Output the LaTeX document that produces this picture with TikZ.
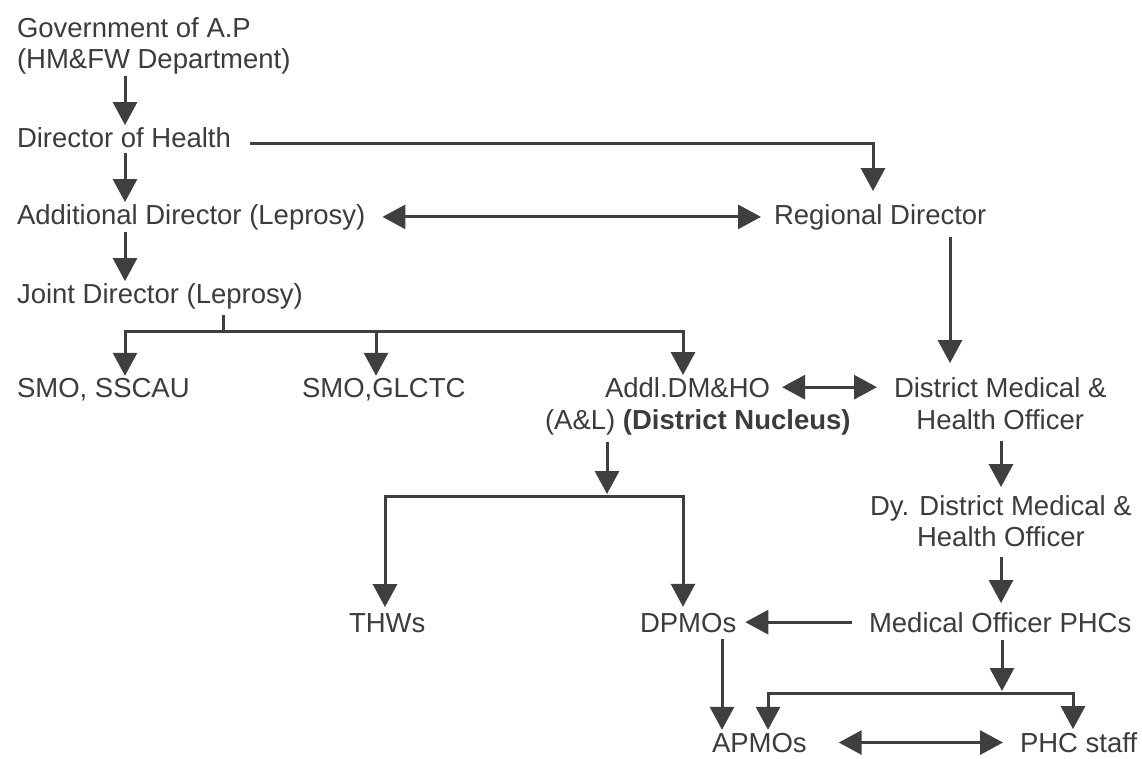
\documentclass[tikz,border=0pt]{standalone}
\usepackage{fontspec}
\setmainfont{Liberation Sans}
\usetikzlibrary{arrows.meta}
\definecolor{ink}{HTML}{3F3F3F}
\definecolor{txt}{HTML}{3C3C3C}
\begin{document}
\begin{tikzpicture}[x=1pt,y=-1pt,
  lbl/.style={font=\fontsize{27.5}{32}\selectfont, text=txt, inner sep=0pt, outer sep=2pt, anchor=base west},
  ln/.style={draw=ink, line width=3pt},
  arr/.style={ln, -{Triangle[width=24pt,length=23pt]}},
  darr/.style={ln, {Triangle[width=24pt,length=23pt]}-{Triangle[width=24pt,length=23pt]}}]
\fill[white] (0,0) rectangle (1142,758);
\useasboundingbox (0,0) rectangle (1142,758);

% columns and junctions
\coordinate (c1) at (125,0);
\coordinate (c2) at (376,0);
\coordinate (c3) at (683,0);
\coordinate (c4) at (385,0);
\coordinate (c5) at (950,0);
\coordinate (c6) at (873,0);
\coordinate (c7) at (1001,0);
\coordinate (c8) at (722,0);
\coordinate (c9) at (768,0);
\coordinate (c10) at (1073,0);
\coordinate (jb) at (223,331);
\coordinate (ab) at (607,496);
\coordinate (mb) at (1002,693);

% nodes
\node[lbl] (gov1) at (15,37) {Government of A.P};
\node[lbl] (gov2) at (15,68) {(HM\&FW Department)};
\node[lbl] (dh) at (15,147) {Director of Health};
\node[lbl] (ad) at (15,224) {Additional Director (Leprosy)};
\node[lbl] (rd) at (772,224) {Regional Director};
\node[lbl] (jd) at (15,303) {Joint Director (Leprosy)};
\node[lbl] (smo1) at (15,397) {SMO, SSCAU};
\node[lbl] (smo2) at (300,397) {SMO,GLCTC};
\node[lbl] (addl) at (603,397) {Addl.DM\&HO};
\node[lbl] (al) at (543,429) {(A\&L) \textbf{(District Nucleus)}};
\node[lbl] (dmho1) at (892,397) {District Medical \&};
\node[lbl,anchor=base] (dmho2) at ([yshift=-32pt]dmho1.base) {Health Officer};
\node[lbl] (dy1) at (868,515) {Dy. District Medical \&};
\node[lbl,anchor=base] (dy2) at ([yshift=-31pt]dy1.base) {Health Officer};
\node[lbl] (thw) at (347,632) {THWs};
\node[lbl] (dp) at (638,632) {DPMOs};
\node[lbl] (mo) at (867,632) {Medical Officer PHCs};
\node[lbl] (ap) at (710,752) {APMOs};
\node[lbl] (phc) at (1018,752) {PHC staff};

% left column
\draw[arr] (gov2.south -| c1) -- (dh.north -| c1);
\draw[arr, shorten <=4pt] (dh.south -| c1) -- (ad.north -| c1);
\draw[arr] (ad.south -| c1) -- (jd.north -| c1);

% director -> regional
\draw[arr] ([xshift=17pt,yshift=4pt]dh.base east) -| ([yshift=11pt]rd.north -| c6);
\draw[darr, shorten <=15pt, shorten >=11pt] (ad.east) -- (ad.east -| rd.west);

% joint director branches
\draw[ln, shorten <=4pt] (jd.south -| jb) -- (jb);
\draw[arr] (jb) -| (smo1.north -| c1);
\draw[arr] (jb -| c2) -- (smo2.north -| c2);
\draw[arr] (jb) -| (addl.north -| c3);

% regional -> DMHO
\draw[arr, shorten <=5pt, shorten >=12pt] (rd.south -| c5) -- (dmho1.north -| c5);
\draw[darr, shorten <=10pt, shorten >=15pt] (addl.east) -- (addl.east -| dmho1.west);

% Addl -> THWs, DPMOs
\draw[arr, shorten <=5pt, shorten >=2pt] (al.south -| ab) -- (ab);
\draw[arr, shorten >=4pt] (ab) -| (thw.north -| c4);
\draw[arr, shorten >=4pt] (ab) -| (dp.north -| c3);

% right column
\draw[arr, shorten <=10pt, shorten >=6pt] (dmho2.south -| c7) -- (dy1.north -| c7);
\draw[arr, shorten <=9pt, shorten >=7pt] (dy2.south -| c7) -- (mo.north -| c7);
\draw[arr, shorten <=15pt, shorten >=7pt] (mo.west) -- (mo.west -| dp.east);

% bottom
\draw[arr, shorten <=5pt, shorten >=1pt] (dp.south -| c8) -- (ap.north -| c8);
\draw[arr, shorten <=6pt, shorten >=2pt] (mo.south -| mb) -- (mb);
\draw[arr, shorten >=1pt] (mb) -| (ap.north -| c9);
\draw[arr, shorten >=1pt] (mb) -| (phc.north -| c10);
\draw[darr, shorten <=30pt, shorten >=15pt] (ap.east) -- (ap.east -| phc.west);
\end{tikzpicture}
\end{document}
